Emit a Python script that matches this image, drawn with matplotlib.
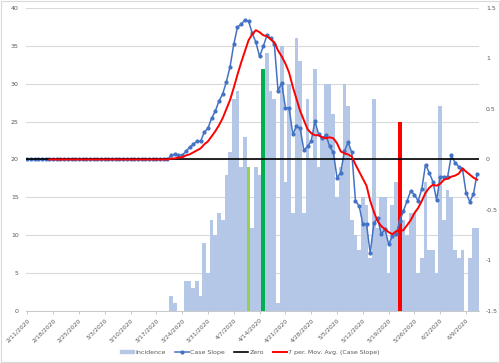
import matplotlib
matplotlib.use('Agg')
import matplotlib.pyplot as plt
from matplotlib.patches import Rectangle
from matplotlib.lines import Line2D
import pandas as pd

# daily categories 2/11/2020 .. 6/12/2020
dates = pd.date_range('2020-02-11', '2020-06-12', freq='D')

# new cases per day (left axis)
incidence = [0, 0, 0, 0, 0, 0, 0, 0, 0, 0,
             0, 0, 0, 0, 0, 0, 0, 0, 0, 0,
             0, 0, 0, 0, 0, 0, 0, 0, 0, 0,
             0, 0, 0, 0, 0, 0, 0, 0, 0,
             2, 1, 0, 0, 4, 4, 3, 4, 2, 9, 5,
             12, 10, 13, 12, 18, 21, 28, 29, 19, 23,
             19, 11, 19, 18, 32, 34, 29, 28, 1, 35,
             17, 30, 13, 36, 33, 13, 28, 20, 32, 19,
             23, 30, 30, 26, 15, 19, 30, 27, 12, 10,
             8, 15, 14, 7, 28, 11, 15, 15, 5, 14,
             17, 25, 12, 10, 13, 13, 5, 7, 17, 8,
             8, 5, 27, 12, 16, 15, 8, 7, 8, 0,
             7, 11, 11]

# case slope (right axis)
case_slope = [0, 0, 0, 0, 0, 0, 0, 0, 0, 0,
              0, 0, 0, 0, 0, 0, 0, 0, 0, 0,
              0, 0, 0, 0, 0, 0, 0, 0, 0, 0,
              0, 0, 0, 0, 0, 0, 0, 0, 0,
              0.04, 0.05, 0.04, 0.04, 0.08, 0.12, 0.15, 0.18, 0.18, 0.27, 0.31,
              0.41, 0.48, 0.58, 0.65, 0.77, 0.92, 1.14, 1.31, 1.34, 1.38,
              1.37, 1.25, 1.16, 1.02, 1.12, 1.23, 1.20, 1.14, 0.68, 0.76,
              0.51, 0.51, 0.25, 0.33, 0.31, 0.09, 0.13, 0.18, 0.38, 0.25,
              0.21, 0.24, 0.13, 0.07, -0.18, -0.13, 0.08, 0.17, 0.07, -0.41,
              -0.46, -0.64, -0.64, -0.93, -0.63, -0.58, -0.74, -0.69, -0.84, -0.76,
              -0.74, -0.61, -0.51, -0.41, -0.31, -0.35, -0.41, -0.29, -0.05, -0.13,
              -0.22, -0.40, -0.17, -0.17, -0.17, 0.04, -0.03, -0.07, -0.09, -0.33,
              -0.42, -0.34, -0.14]

# 7 period moving average trendline
mov_avg = [None, None, None, None, None, None, 0, 0, 0, 0,
           0, 0, 0, 0, 0, 0, 0, 0, 0, 0,
           0, 0, 0, 0, 0, 0, 0, 0, 0, 0,
           0, 0, 0, 0, 0, 0, 0, 0, 0,
           0.01, 0.01, 0.02, 0.02, 0.04, 0.05, 0.07, 0.09, 0.11, 0.15, 0.18,
           0.23, 0.28, 0.34, 0.41, 0.50, 0.59, 0.71, 0.84, 0.96, 1.07,
           1.18, 1.24, 1.28, 1.26, 1.23, 1.22, 1.19, 1.16, 1.08, 1.02,
           0.95, 0.86, 0.72, 0.60, 0.48, 0.39, 0.30, 0.26, 0.24, 0.24,
           0.22, 0.21, 0.22, 0.21, 0.16, 0.08, 0.06, 0.05, 0.03, -0.05,
           -0.12, -0.19, -0.26, -0.41, -0.52, -0.61, -0.66, -0.69, -0.72, -0.74,
           -0.71, -0.71, -0.70, -0.65, -0.60, -0.53, -0.48, -0.41, -0.33, -0.28,
           -0.25, -0.26, -0.24, -0.20, -0.19, -0.17, -0.16, -0.14, -0.09, -0.12,
           -0.15, -0.18, -0.20]

# days whose incidence bar is coloured
highlight_days = ['2020-04-11', '2020-04-15', '2020-05-22']
highlight_colors = ['#92D050', '#00B050', '#FF0000']

gray = '#595959'
grid = '#D9D9D9'
light_blue = '#B4C7E7'
blue = '#4472C4'

x = list(range(len(dates)))
bar_colors = [light_blue] * len(dates)
for d, c in zip(highlight_days, highlight_colors):
    bar_colors[dates.get_loc(pd.Timestamp(d))] = c

fig = plt.figure(figsize=(5, 3.63), dpi=100)
ax = fig.add_axes([0.0516, 0.1433, 0.958 - 0.0516, 0.978 - 0.1433])

ax.bar(x, incidence, width=1.0, color=bar_colors, linewidth=0, zorder=2)
ax.set_ylim(0, 40)
ax.set_yticks(range(0, 41, 5))
ax.set_xlim(-0.4, len(dates) - 0.5)
ax.yaxis.grid(True, color=grid, linewidth=0.8, zorder=0)
ax.set_axisbelow(True)

tick_idx = list(range(0, len(dates), 7))
ax.set_xticks(tick_idx)
ax.set_xticklabels([f'{dates[i].month}/{dates[i].day}/{dates[i].year}' for i in tick_idx],
                   rotation=45, ha='right', va='top', rotation_mode='anchor')
ax.tick_params(axis='x', colors='#BFBFBF', labelcolor=gray, labelsize=4.4,
               length=2.5, width=0.6, pad=2)
ax.tick_params(axis='y', length=0, labelcolor=gray, labelsize=4.5, pad=5)
for s in ['top', 'left', 'right']:
    ax.spines[s].set_visible(False)
ax.spines['bottom'].set_color('#BFBFBF')
ax.spines['bottom'].set_linewidth(0.6)

ax2 = ax.twinx()
ax2.plot(x, case_slope, color=blue, linewidth=1.1, marker='o', markersize=2.0,
         markerfacecolor=blue, markeredgecolor=blue, zorder=3)
ax2.axhline(0, color='black', linewidth=1.2, zorder=4)
ax2.plot(x, mov_avg, color='#FF0000', linewidth=1.4, zorder=5)
ax2.set_ylim(-1.5, 1.5)
ax2.set_yticks([-1.5, -1, -0.5, 0, 0.5, 1, 1.5])
ax2.set_yticklabels(['-1.5', '-1', '-0.5', '0', '0.5', '1', '1.5'])
ax2.tick_params(axis='y', length=0, labelcolor=gray, labelsize=4.5, pad=5)
for s in ax2.spines.values():
    s.set_visible(False)

handles = [
    Rectangle((0, 0), 1, 1, color=light_blue),
    Line2D([], [], color=blue, linewidth=1.1, marker='o', markersize=2.0),
    Line2D([], [], color='black', linewidth=1.2),
    Line2D([], [], color='#FF0000', linewidth=1.4),
]
labels = ['Incidence', 'Case Slope', 'Zero', '7 per. Mov. Avg. (Case Slope)']
leg = fig.legend(handles, labels, loc='center', bbox_to_anchor=(0.5, 0.03),
                 ncol=4, frameon=False, fontsize=4.5, handlelength=2.2,
                 handleheight=0.5, columnspacing=1.5, handletextpad=0.2)
for t in leg.get_texts():
    t.set_color(gray)

# chart area border
fig.patches.append(Rectangle((0.002, 0.003), 0.996, 0.994, transform=fig.transFigure,
                             fill=False, edgecolor=grid, linewidth=0.8))

fig.savefig('out.png', dpi=100)
